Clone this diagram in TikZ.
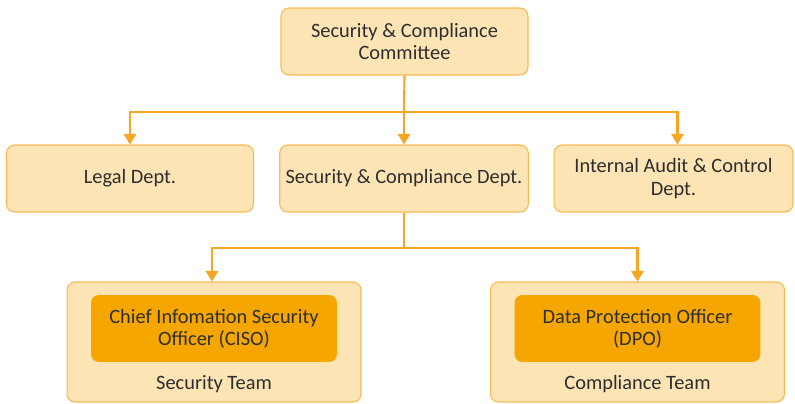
\documentclass[tikz,border=0pt]{standalone}
\usepackage{fontspec}
\setmainfont{Carlito}
\usetikzlibrary{arrows.meta,positioning}

\definecolor{boxfill}{HTML}{FCE4B5}
\definecolor{boxline}{HTML}{F8BA50}
\definecolor{rolefill}{HTML}{F5A600}
\definecolor{wire}{HTML}{F5A623}
\definecolor{ink}{HTML}{2E2E2E}

\begin{document}
\begin{tikzpicture}[
    x=0.02cm, y=-0.02cm,
    unit/.style={draw=boxline, line width=0.6pt, rounded corners=4.5pt, fill=boxfill,
      minimum width=4.94cm, minimum height=1.34cm, align=center, text=ink,
      font=\fontsize{11.6}{12.6}\selectfont},
    team/.style={draw=boxline, line width=0.6pt, rounded corners=4.5pt, fill=boxfill,
      minimum width=5.88cm, minimum height=2.4cm},
    role/.style={rounded corners=4.5pt, fill=rolefill, minimum width=4.92cm,
      minimum height=1.34cm, align=center, text=ink, font=\fontsize{11.6}{12.6}\selectfont},
    tag/.style={text=ink, font=\fontsize{11.6}{12.6}\selectfont},
    wireline/.style={draw=wire, line width=1.2pt},
    link/.style={wireline, -{Triangle[width=7pt,length=6pt]}}
  ]
    \useasboundingbox (0,0) rectangle (795,403);

    \node[unit] (committee) at (404.5,41.5) {Security \& Compliance\\Committee};

    \node[unit] (legal) at (130,178.5) {Legal Dept.};
    \node[unit] (scdept) at (404,178.5) {Security \& Compliance Dept.};
    \node[unit, minimum width=4.78cm] (audit) at (673.5,178.5) {Internal Audit \& Control\\Dept.};

    % teams with their officers
    \node[team] (secteam) at (214,342) {};
    \node[role] (ciso) at (214,328.5) {Chief Infomation Security\\Officer (CISO)};
    \node[tag] (seclbl) at (214,384) {Security Team};

    \node[team] (compteam) at (637.5,342) {};
    \node[role] (dpo) at (637.5,328.5) {Data Protection Officer\\(DPO)};
    \node[tag] (complbl) at (637.5,384) {Compliance Team};

    \coordinate (split1) at (404,112);
    \coordinate (split2) at (404,248);

    \draw[wireline] (committee.south) -- (split1);
    \draw[link] (split1) -| (legal.north);
    \draw[link] (split1) -- (scdept.north);
    \draw[link] (split1) -| ([xshift=0.08cm]audit.north);

    \draw[wireline] (scdept.south) -- (split2);
    \draw[link] (split2) -| ([xshift=-0.04cm]secteam.north);
    \draw[link] (split2) -| (compteam.north);
  \end{tikzpicture}
\end{document}
